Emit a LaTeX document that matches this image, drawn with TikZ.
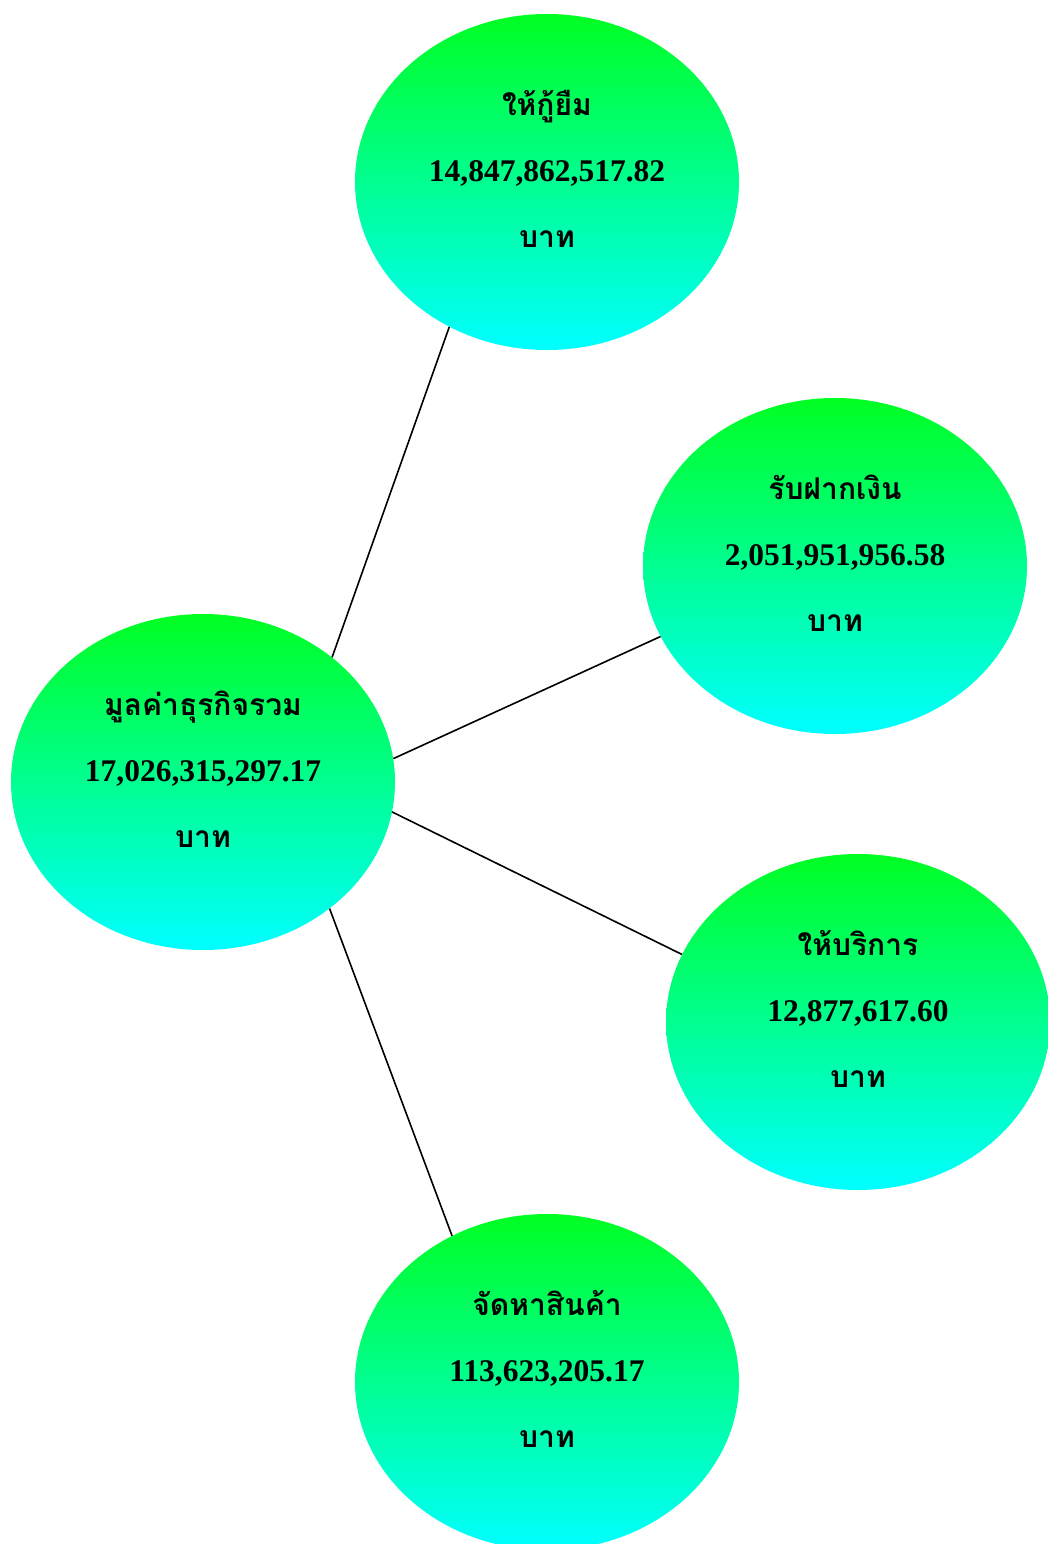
\documentclass[tikz,border=0pt]{standalone}
\usepackage{fontspec}
\setmainfont{Liberation Serif}
\newfontfamily\thaifont[Script=Thai]{Loma}
\usetikzlibrary{shapes.geometric}

\definecolor{topgreen}{RGB}{0,255,34}
\definecolor{botcyan}{RGB}{0,255,255}

\newcommand{\amount}[2]{{\thaifont\fontsize{30}{66}\selectfont #1}\\ #2\\ {\thaifont\fontsize{30}{66}\selectfont บาท}\\[-40pt]\mbox{}}

\tikzset{
  bubble/.style={ellipse, minimum width=384pt, minimum height=336pt, inner sep=0pt,
    top color=topgreen, bottom color=botcyan, align=center,
    font={\fontsize{31.5}{66}\selectfont\bfseries}},
  link/.style={line width=1.6pt}
}

\begin{document}
\begin{tikzpicture}[x=1pt,y=-1pt]
\useasboundingbox (0,0) rectangle (1047,1544);

\node[bubble] (total) at (203,782) {\amount{มูลค่าธุรกิจรวม}{17,026,315,297.17}};
\node[bubble] (loan) at (547,182) {\amount{ให้กู้ยืม}{14,847,862,517.82}};
\node[bubble] (deposit) at (835,566) {\amount{รับฝากเงิน}{2,051,951,956.58}};
\node[bubble] (service) at (858,1022) {\amount{ให้บริการ}{12,877,617.60}};
\node[bubble] (goods) at (547,1382) {\amount{จัดหาสินค้า}{113,623,205.17}};

\draw[link] (total.44) -- (loan.236.3);
\draw[link] (total.7.1) -- (deposit.202.4);
\draw[link] (total.-9.7) -- (service.159.9);
\draw[link] (total.-45) -- (goods.123.7);

\end{tikzpicture}
\end{document}
